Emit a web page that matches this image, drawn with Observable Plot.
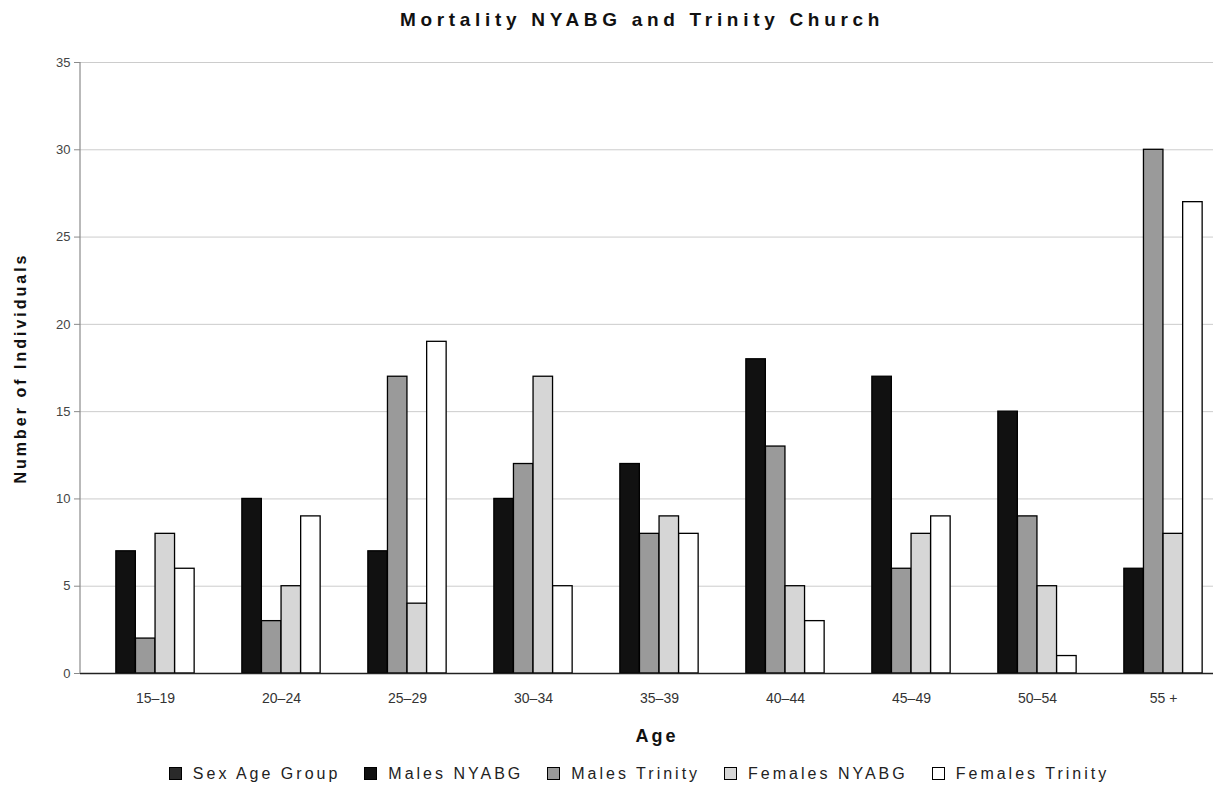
<!DOCTYPE html>
<html>
<head>
<meta charset="utf-8">
<script src="https://cdn.jsdelivr.net/npm/d3@7"></script>
<script src="https://cdn.jsdelivr.net/npm/@observablehq/plot@0.6"></script>
<style>
  html, body { margin: 0; padding: 0; background: #fff; width: 1214px; height: 792px; overflow: hidden; }
  body { font-family: "Liberation Sans", Arial, sans-serif; }
  #title { height: 45px; line-height: 40px; text-align: center; font-weight: bold; font-size: 19px; letter-spacing: 4.7px; color: #111; padding-left: 70px; box-sizing: border-box; }
  #chart svg { display: block; }
  #legend { display: flex; justify-content: center; align-items: center; height: 37px; font-size: 16px; letter-spacing: 3px; color: #222; padding-left: 64px; box-sizing: border-box; }
  .item { display: flex; align-items: center; margin: 0 12px; }
  .sw { width: 11px; height: 11px; border: 1px solid #000; margin-right: 11px; }
  g[aria-label="x-axis label"] text { font-weight: bold; font-size: 18px; letter-spacing: 3px; fill: #111; translate: 10px 0; }
  g[aria-label="y-axis label"] text { font-weight: bold; font-size: 16px; letter-spacing: 3px; fill: #111; }
</style>
</head>
<body>
<div id="title">Mortality NYABG and Trinity Church</div>
<div id="chart"></div>
<div id="legend"></div>
<script>
const ages = ["15–19", "20–24", "25–29", "30–34", "35–39", "40–44", "45–49", "50–54", "55 +"];
const malesNYABG   = [7, 10, 7, 10, 12, 18, 17, 15, 6];
const malesTrinity = [2, 3, 17, 12, 8, 13, 6, 9, 30];
const femalesNYABG = [8, 5, 4, 17, 9, 5, 8, 5, 8];
const femalesTrinity = [6, 9, 19, 5, 8, 3, 9, 1, 27];
const seriesNames = ["Males NYABG", "Males Trinity", "Females NYABG", "Females Trinity"];
const seriesValues = [malesNYABG, malesTrinity, femalesNYABG, femalesTrinity];
const seriesColors = ["#111111", "#9a9a9a", "#d6d6d6", "#ffffff"];
const legendNames = ["Sex Age Group", ...seriesNames];
const legendColors = ["#2a2a2a", ...seriesColors];
const yTicks = [0, 5, 10, 15, 20, 25, 30, 35];

const W = 1214, H = 710;
const xRange = [91, 1226];
const step = (xRange[1] - xRange[0]) / ages.length;
const barW = 19.6;
const groupPad = (step - barW * seriesNames.length) / 2;

const barMarks = seriesValues.map((vals, i) => {
  const insetLeft = groupPad + barW * i;
  const insetRight = step - insetLeft - barW;
  return Plot.barY(ages.map((a, j) => ({age: a, value: vals[j]})), {
    x: "age", y: "value", fill: seriesColors[i], stroke: "#000", strokeWidth: 1.3,
    insetLeft, insetRight
  });
});

const leftAxisLine = (index, scales, values, dims) => {
  const g = d3.create("svg:line")
    .attr("x1", dims.marginLeft).attr("x2", dims.marginLeft)
    .attr("y1", dims.marginTop).attr("y2", dims.height - dims.marginBottom)
    .attr("stroke", "#8a8a8a").attr("stroke-width", 1.2);
  return g.node();
};

const chart = Plot.plot({
  width: W, height: H,
  marginLeft: 80, marginRight: 1, marginTop: 17, marginBottom: 82,
  style: {fontFamily: "Liberation Sans, Arial, sans-serif", background: "#fff"},
  x: {domain: ages, range: xRange, padding: 0},
  y: {domain: [0, 35], ticks: yTicks},
  marks: [
    Plot.gridY(yTicks, {stroke: "#cccccc", strokeOpacity: 1, strokeWidth: 1}),
    ...barMarks,
    Plot.ruleY([0], {stroke: "#222", strokeWidth: 1.3}),
    leftAxisLine,
    Plot.axisY(yTicks, {tickSize: 6, tickPadding: 4, stroke: "#8a8a8a", fontSize: 13, fill: "#444", letterSpacing: 1.5,
      label: "Number of Individuals", labelArrow: "none", labelAnchor: "center", labelOffset: 66}),
    Plot.axisX(ages, {tickSize: 0, tickPadding: 20, fontSize: 14, fill: "#333", letterSpacing: 1.3,
      label: "Age", labelAnchor: "center", labelOffset: 68})
  ]
});
document.getElementById("chart").appendChild(chart);

const legend = document.getElementById("legend");
legendNames.forEach((n, i) => {
  const it = document.createElement("div");
  it.className = "item";
  const sw = document.createElement("div");
  sw.className = "sw";
  sw.style.background = legendColors[i];
  const t = document.createElement("span");
  t.textContent = n;
  it.appendChild(sw); it.appendChild(t);
  legend.appendChild(it);
});
</script>
</body>
</html>
